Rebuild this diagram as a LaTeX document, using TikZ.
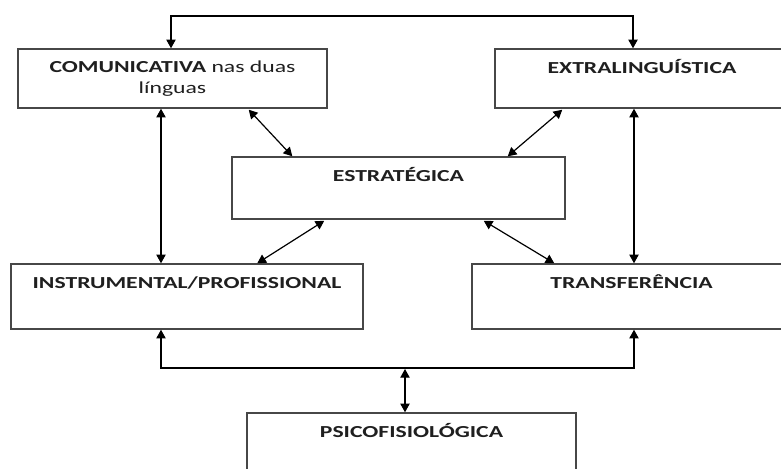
\documentclass[tikz,border=0pt]{standalone}
\usepackage{fontspec}
\newfontfamily\calfont[FakeStretch=1.41]{Carlito}
\usetikzlibrary{positioning, arrows.meta, calc}

\begin{document}
\begin{tikzpicture}[
  x=0.75pt, y=-0.75pt,
  font=\calfont\fontsize{12.6pt}{15.5pt}\selectfont,
  arr/.style={{Triangle[length=6.5pt,width=7pt]}-{Triangle[length=6.5pt,width=7pt]}, line width=0.9pt, draw=black},
  blk/.style={draw=black!72, line width=1.1pt, inner sep=0pt, fill=white},
  ttl/.style={anchor=base, yshift=-18.75pt, align=center, inner sep=0pt, text=black!88}
]
\clip (0,0) rectangle (781,468);
\fill[white] (0,0) rectangle (781,468);

% ================= BOXES =================
\node[blk, minimum width=231.75pt, minimum height=44.25pt,
      label={[ttl, yshift=-15pt]north:{\textbf{COMUNICATIVA} nas duas\\línguas}}] (com) at (172.5,78.5) {};
\node[blk, minimum width=220.5pt, minimum height=44.25pt,
      label={[ttl]north:\textbf{EXTRALINGUÍSTICA}}] (ext) at (642,78.5) {};
\node[blk, minimum width=249.75pt, minimum height=46.5pt,
      label={[ttl]north:\textbf{ESTRATÉGICA}}] (est) at (398.5,188) {};
\node[blk, minimum width=264pt, minimum height=48.75pt,
      label={[ttl]north:\textbf{INSTRUMENTAL/PROFISSIONAL}}] (ins) at (187,296.5) {};
\node[blk, minimum width=239.25pt, minimum height=48.75pt,
      label={[ttl]north:\textbf{TRANSFERÊNCIA}}] (tra) at (631.5,296.5) {};
\node[blk, minimum width=246.75pt, minimum height=48.75pt,
      label={[ttl]north:\textbf{PSICOFISIOLÓGICA}}] (psi) at (411.5,445.5) {};

% ================= ARROWS =================
\coordinate (tl) at (171,16);
\coordinate (tr) at (633,16);
\coordinate (bl) at (161,368);
\coordinate (br) at (634,368);
\coordinate (bm) at (405,369);
\draw[arr] (tl |- com.north) -- (tl) -- (tr) -- (tr |- ext.north);
\draw[arr] (bl |- com.south) -- (bl |- ins.north);
\draw[arr] (br |- ext.south) -- (br |- tra.north);
\draw[arr] (bl |- ins.south) -- (bl) -- (br) -- (br |- tra.south);
\draw[arr] (bm) -- (bm |- psi.north);

\draw[arr] ($(com.south east)+(-79,1)$) -- ($(est.north west)+(61,0)$);
\draw[arr] ($(ext.south west)+(68,1)$) -- ($(est.north east)+(-58,0)$);
\draw[arr] ($(est.south west)+(93,1)$) -- ($(ins.north west)+(247,0)$);
\draw[arr] ($(est.south east)+(-82,1)$) -- ($(tra.north west)+(83,0)$);
\end{tikzpicture}
\end{document}
